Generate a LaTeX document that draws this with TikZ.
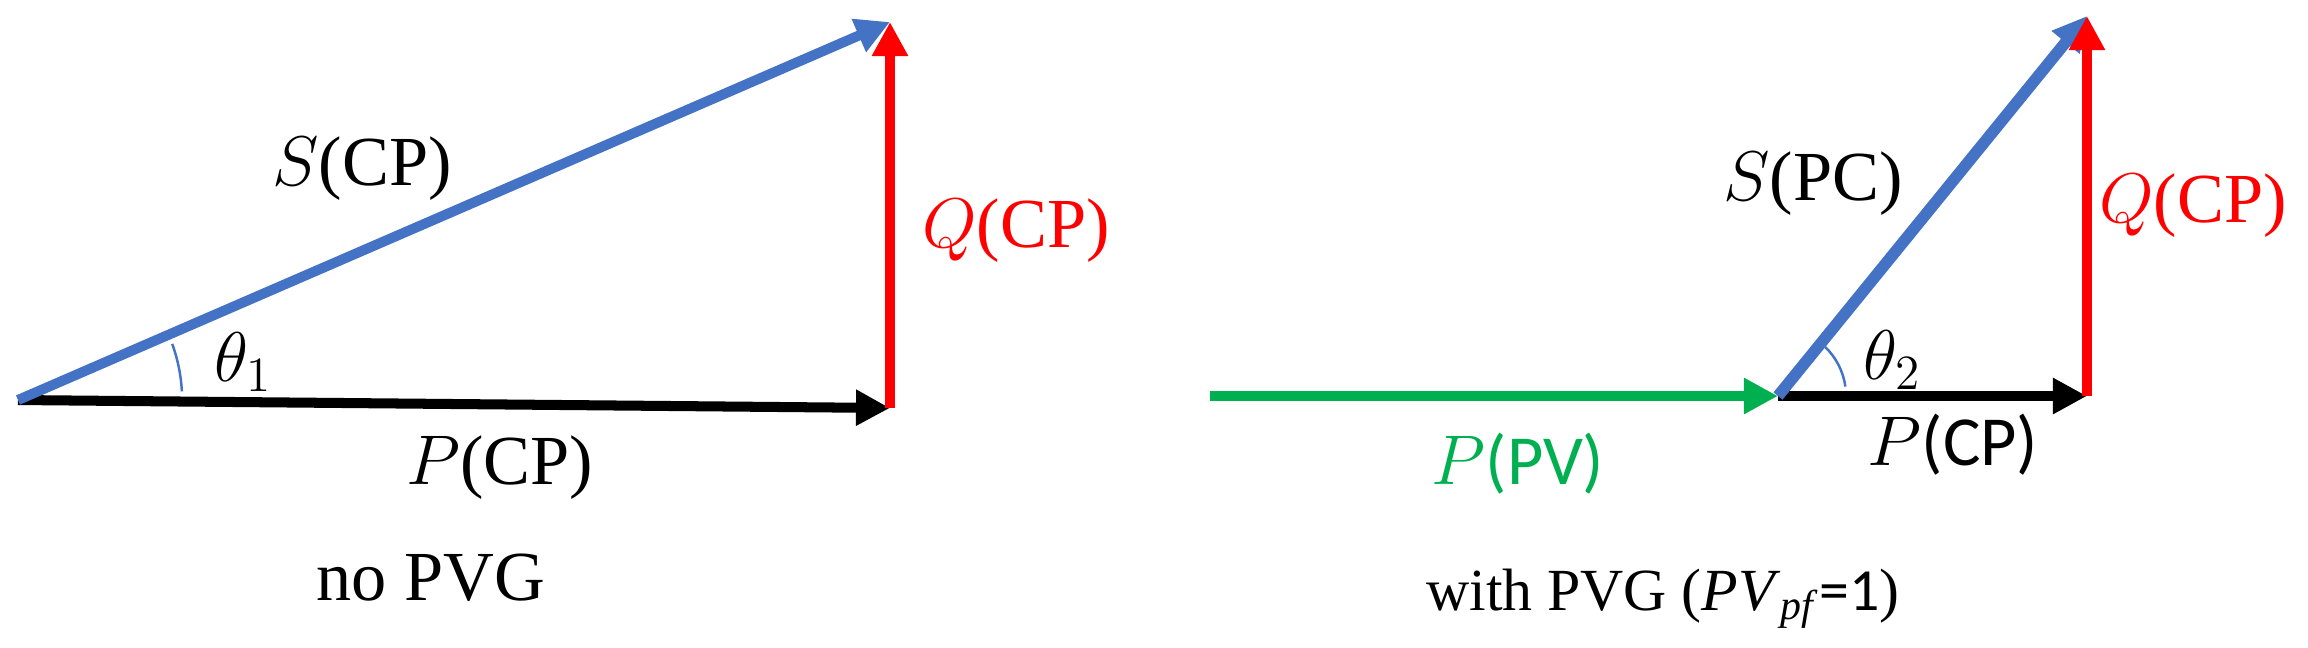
\RequirePackage{fix-cm}
\documentclass[tikz,border=0pt]{standalone}
\usepackage{fontspec}
\setmainfont{Liberation Serif}
\newfontfamily\calib{Carlito}
\usetikzlibrary{arrows.meta}
\definecolor{sblue}{HTML}{4472C4}
\definecolor{pgreen}{HTML}{00B050}
\begin{document}
\begin{tikzpicture}
  [x=0.01cm,y=-0.01cm,every node/.style={font=\fontsize{20}{24}\selectfont,inner sep=0pt},
   vec/.style={line width=2.85pt,-{Triangle[length=0.34cm,width=0.34cm]}},
   angarc/.style={sblue,line width=0.7pt}]
\useasboundingbox (0,0) rectangle (2308,647);
% no PVG
\coordinate (o1) at (18,400);
\coordinate (p1) at (890,408);
\coordinate (t1) at (890,22);
\draw[vec] (o1) -- (p1);
\draw[vec,sblue] (o1) -- (t1);
\draw[vec,red] (p1) -- (t1);
\draw[angarc] ([shift={(3:1.64cm)}]o1) arc (3:20:1.64cm);
\node (s1) at (362,169) {$S$(CP)};
\node (th1) at (243,362) {$\theta_1$};
\node[red] (q1) at (1016,231) {$Q$(CP)};
\node (pc1) at (500,468) {$P$(CP)};
\node (cap1) at (431,578) {no PVG};
% with PVG
\coordinate (g2) at (1210,396);
\coordinate (o2) at (1778,396);
\coordinate (p2) at (2087,396);
\coordinate (t2) at (2087,16);
\draw[vec,pgreen,line width=3.1pt] (g2) -- (o2);
\draw[vec] (o2) -- (p2);
\draw[vec,sblue,line width=3.3pt] (o2) -- (t2);
\draw[vec,red] (p2) -- (t2);
\draw[angarc] ([shift={(8:0.68cm)}]o2) arc (8:46:0.68cm);
\node (s2) at (1813,184) {$S$(PC)};
\node (th2) at (1892,360) {$\theta_2$};
\node[red] (q2) at (2193,206) {$Q$(CP)};
\node[pgreen] (pv2) at (1518,464) {$P${\calib(PV)}};
\node (pc2) at (1953,445) {$P${\calib(CP)}};
\node[font=\fontsize{17}{20}\selectfont] (cap2) at (1663,599)
  {with PVG (\textit{PV}\textsubscript{\textit{pf}}{\calib=1})};
\end{tikzpicture}
\end{document}
